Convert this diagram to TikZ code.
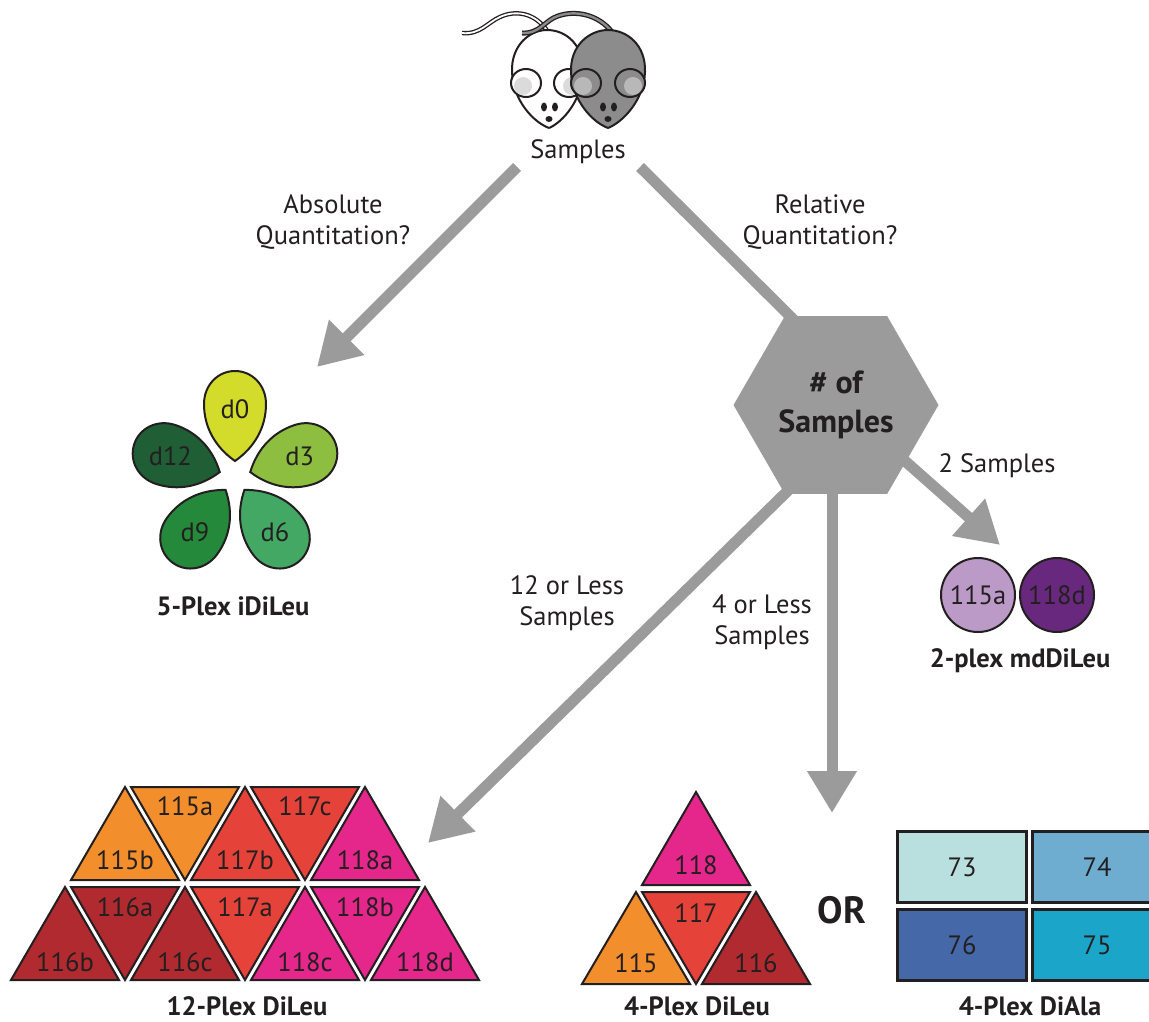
\documentclass[tikz,border=0pt]{standalone}
\usepackage{fontspec}
\setmainfont{PT Sans}
\usetikzlibrary{arrows.meta,shapes.geometric,backgrounds}

\definecolor{ink}{HTML}{231F20}
\definecolor{flowgray}{HTML}{9B9B9B}
\definecolor{mousegray}{HTML}{8C8C8C}
\definecolor{leafd0}{HTML}{D3DC2B}
\definecolor{leafd3}{HTML}{8DBE3F}
\definecolor{leafd6}{HTML}{42A864}
\definecolor{leafd9}{HTML}{25893B}
\definecolor{leafd12}{HTML}{205E36}
\definecolor{tag115}{HTML}{F28E2B}
\definecolor{tag116}{HTML}{B02A2F}
\definecolor{tag117}{HTML}{E5433A}
\definecolor{tag118}{HTML}{E5268A}
\definecolor{mdlight}{HTML}{BC9AC8}
\definecolor{mddark}{HTML}{68287E}
\definecolor{ala73}{HTML}{B9DFDE}
\definecolor{ala74}{HTML}{6EADD0}
\definecolor{ala75}{HTML}{1BA6C9}
\definecolor{ala76}{HTML}{4468A8}

\begin{document}
\begin{tikzpicture}[x=1pt,y=-1pt,
    lab/.style={font=\fontsize{26.5}{31}\selectfont, text=ink, align=center, inner sep=0pt},
    title/.style={font=\fontsize{26.5}{31}\selectfont\bfseries, text=ink, inner sep=0pt, anchor=base},
    flow/.style={draw=flowgray, line width=11pt, -{Triangle[length=42pt,width=47pt]}},
    flowline/.style={draw=flowgray, line width=11pt},
    tri/.style={draw=ink, line width=2pt, line join=miter},
    petal/.style={draw=ink, line width=2pt},
    outline/.style={draw=ink, line width=2pt}]

\useasboundingbox (0,0) rectangle (1149,1022);
\clip (0,0) rectangle (1149,1022);

% two mice
\draw[ink, line width=1.3pt, double=white, double distance=1.8pt] (462,33) .. controls (480,35) and (488,22) .. (500,17) .. controls (515,10) and (535,12) .. (548,32);
\filldraw[outline, fill=white] (549,128) .. controls (533,122) and (513,100) .. (512,72) .. controls (511,45) and (530,30) .. (547,30) .. controls (566,30) and (584,45) .. (583,72) .. controls (582,100) and (563,122) .. (549,128);
\foreach \ex/\dx in {526/-3, 569/3} {
    \filldraw[outline, fill=white] (\ex,83) ellipse (15 and 14);
    \fill[black!14] (\ex+\dx,86) ellipse (9 and 9);
}
\fill[ink] (544,107) ellipse (3 and 4.5) (555,107) ellipse (3 and 4.5) (549,119) ellipse (3.5 and 3);
\draw[ink, line width=1.3pt, double=mousegray, double distance=2.4pt] (522,33) .. controls (540,34) and (545,20) .. (558,16) .. controls (575,10) and (598,14) .. (612,32);
\filldraw[outline, fill=mousegray] (608,128) .. controls (592,122) and (572,100) .. (571,72) .. controls (570,45) and (590,30) .. (608,30) .. controls (627,30) and (646,45) .. (645,72) .. controls (644,100) and (623,122) .. (608,128);
\foreach \ex/\dx in {586/-3, 630/3} {
    \filldraw[outline, fill=mousegray] (\ex,83) ellipse (15 and 14);
    \fill[black!28] (\ex+\dx,86) ellipse (9 and 9);
}
\fill[ink] (603,107) ellipse (3 and 4.5) (614,107) ellipse (3 and 4.5) (608,119) ellipse (3.5 and 3);
\node[lab] (samp) at (578,152) {Samples};

\node[lab] (qAbs) at (333,222) {Absolute\\Quantitation?};
\node[lab] (qRel) at (820,222) {Relative\\Quantitation?};

\node[regular polygon, regular polygon sides=6, minimum size=205pt, inner sep=0pt, fill=flowgray,
      font=\fontsize{32}{39}\selectfont\bfseries, text=ink, align=center] (hex) at (836,405) {\# of\\Samples};

\node[lab] (nTwo) at (997,466) {2 Samples};
\node[lab] (nTwelve) at (567,603) {12 or Less\\Samples};
\node[lab] (nFour) at (762,622) {4 or Less\\Samples};

\coordinate (absTip) at (317,367);
\coordinate (twoTip) at (1000,545);
\coordinate (twelveTip) at (428,843);
\coordinate (fourTip) at (832,813);

\begin{scope}[on background layer]
    \fill[white] (0,0) rectangle (1149,1022);
    \draw[flow] ([xshift=-61pt,yshift=-15pt]samp.center) -- (absTip);
    \draw[flowline] ([xshift=62pt,yshift=-15pt]samp.center) -- ([xshift=-31pt,yshift=-15pt]hex.north);
    \draw[flow] ([yshift=5pt]hex.center) -- (twoTip);
    \draw[flow] ([xshift=-31pt,yshift=20pt]hex.south) -- (twelveTip);
    \draw[flow] ([xshift=-4pt]hex.center) -- (fourTip);
\end{scope}

% 5-plex flower
\foreach \ang/\lab/\col in {90/d0/leafd0, 18/d3/leafd3, -54/d6/leafd6, -126/d9/leafd9, 162/d12/leafd12} {
    \filldraw[petal, fill=\col, shift={(235,477)}, rotate=\ang] (16,0) .. controls (30,20) and (50,31) .. (73,31) .. controls (92,31) and (106,17) .. (106,0)
        .. controls (106,-17) and (92,-31) .. (73,-31) .. controls (50,-31) and (30,-20) .. (16,0) -- cycle;
    \node[lab] (\lab) at ({235+68*cos(\ang)},{477-68*sin(\ang)}) {\lab};
}
\node[title] (tFive) at (233,615) {5-Plex iDiLeu};

% 2-plex
\node[lab, circle, outline, fill=mdlight, minimum size=74pt] (m115a) at (978,595) {115a};
\node[lab, circle, outline, fill=mddark, minimum size=74pt] (m118d) at (1057,595) {118d};
\node[title] (tTwo) at (1020,667) {2-plex mdDiLeu};

% 12-plex
\foreach \cx/\lab/\col in {125/115b/tag115, 245/117b/tag117, 365/118a/tag118} {
    \filldraw[tri, fill=\col] (\cx-54,880) -- (\cx,787) -- (\cx+54,880) -- cycle;
    \node[lab] (t\lab) at (\cx,860) {\lab};
}
\foreach \cx/\lab/\col in {185/115a/tag115, 305/117c/tag117} {
    \filldraw[tri, fill=\col] (\cx-54,787) -- (\cx+54,787) -- (\cx,880) -- cycle;
    \node[lab] (t\lab) at (\cx,806) {\lab};
}
\foreach \cx/\lab/\col in {65/116b/tag116, 185/116c/tag116, 305/118c/tag118, 425/118d/tag118} {
    \filldraw[tri, fill=\col] (\cx-54,980) -- (\cx,887) -- (\cx+54,980) -- cycle;
    \node[lab] (t\lab) at (\cx,962) {\lab};
}
\foreach \cx/\lab/\col in {125/116a/tag116, 245/117a/tag117, 365/118b/tag118} {
    \filldraw[tri, fill=\col] (\cx-54,887) -- (\cx+54,887) -- (\cx,980) -- cycle;
    \node[lab] (t\lab) at (\cx,907) {\lab};
}
\node[title] (tTwelve) at (247,1015) {12-Plex DiLeu};

% 4-plex DiLeu
\filldraw[tri, fill=tag118] (642,885) -- (696,792) -- (750,885) -- cycle;
\node[lab] (f118) at (696,865) {118};
\foreach \cx/\lab/\col in {636/115/tag115, 756/116/tag116} {
    \filldraw[tri, fill=\col] (\cx-54,984) -- (\cx,892) -- (\cx+54,984) -- cycle;
    \node[lab] (f\lab) at (\cx,963) {\lab};
}
\filldraw[tri, fill=tag117] (642,892) -- (750,892) -- (696,984) -- cycle;
\node[lab] (f117) at (696,913) {117};
\node[title] (tFour) at (697,1015) {4-Plex DiLeu};

\node[font=\fontsize{38}{44}\selectfont\bfseries, text=ink, inner sep=0pt] (orWord) at (842,910) {OR};

% 4-plex DiAla
\foreach \px/\py/\lab/\col in {962/867/73/ala73, 1097/867/74/ala74, 962/945/76/ala76, 1097/945/75/ala75} {
    \node[lab, draw=ink, line width=2.5pt, fill=\col, minimum width=129pt, minimum height=71pt] (a\lab) at (\px,\py) {\lab};
}
\node[title] (tAla) at (1030,1015) {4-Plex DiAla};
\end{tikzpicture}
\end{document}
